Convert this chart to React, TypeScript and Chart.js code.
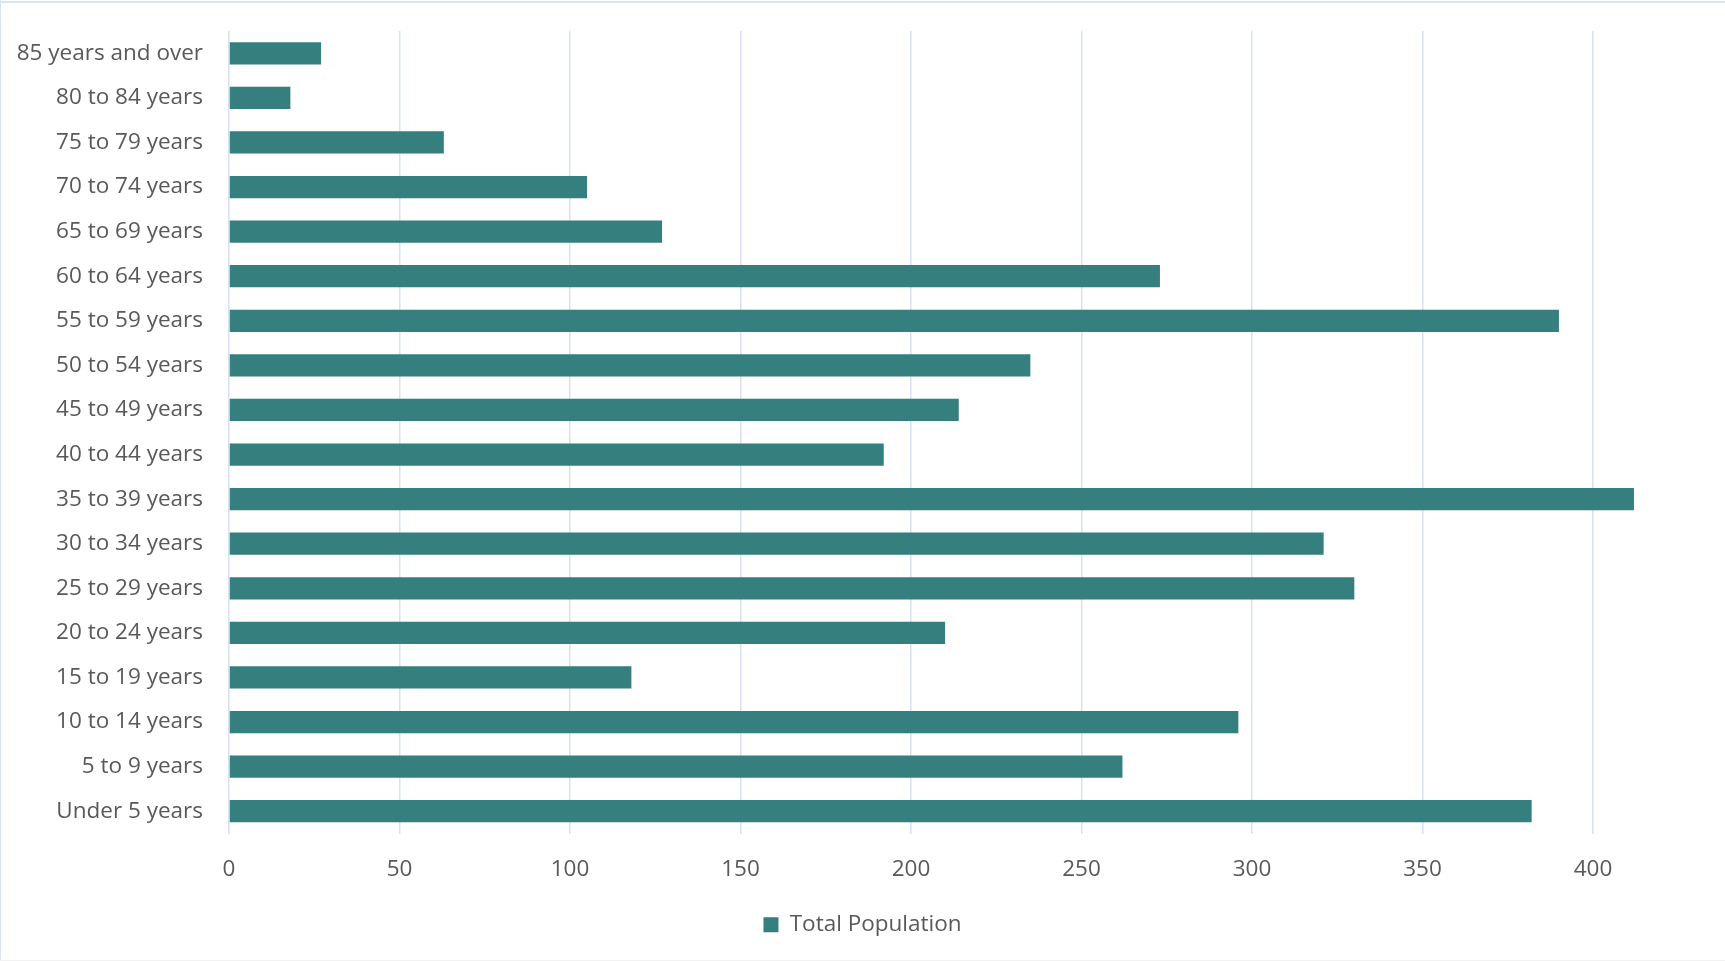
import React, { useEffect, useRef } from "react";
import { Chart, registerables } from "chart.js";

Chart.register(...registerables);

const categories = [
  "85 years and over",
  "80 to 84 years",
  "75 to 79 years",
  "70 to 74 years",
  "65 to 69 years",
  "60 to 64 years",
  "55 to 59 years",
  "50 to 54 years",
  "45 to 49 years",
  "40 to 44 years",
  "35 to 39 years",
  "30 to 34 years",
  "25 to 29 years",
  "20 to 24 years",
  "15 to 19 years",
  "10 to 14 years",
  "5 to 9 years",
  "Under 5 years",
];

const totalPopulation = [27, 18, 63, 105, 127, 273, 390, 235, 214, 192, 412, 321, 330, 210, 118, 296, 262, 382];

const seriesName = "Total Population";
const xTickStep = 50;
const xMax = 438.7;

const FONT = "'Segoe UI', 'Open Sans', sans-serif";
const TEXT = "#595959";
const GRID = "#D6E1F2";
const BAR = "#357F7F";

const borderPlugin = {
  id: "outerBorder",
  afterDraw(chart: any) {
    const ctx = chart.ctx;
    ctx.save();
    ctx.fillStyle = "#DAE4F3";
    ctx.fillRect(0, 1, chart.width, 2);
    ctx.fillRect(0, 0, 1, chart.height);
    ctx.fillStyle = "#F2F2F2";
    ctx.fillRect(0, chart.height - 1, chart.width, 1);
    ctx.restore();
  },
};

export default function App() {
  const ref = useRef<HTMLCanvasElement | null>(null);

  useEffect(() => {
    document.body.style.margin = "0";
    const canvas = ref.current;
    if (!canvas) return;
    const chart = new Chart(canvas, {
      type: "bar",
      data: {
        labels: categories,
        datasets: [
          {
            label: seriesName,
            data: totalPopulation,
            backgroundColor: BAR,
            borderWidth: 0,
            categoryPercentage: 1,
            barPercentage: 0.5,
          },
        ],
      },
      options: {
        indexAxis: "y",
        responsive: false,
        animation: false,
        layout: { padding: { top: 31, right: 0, bottom: 15, left: 0 } },
        plugins: {
          legend: {
            position: "bottom",
            labels: {
              boxWidth: 15,
              boxHeight: 15,
              padding: 10,
              color: TEXT,
              font: { family: FONT, size: 22.5 },
            },
          },
          tooltip: { enabled: false },
        },
        scales: {
          x: {
            type: "linear",
            min: 0,
            max: xMax,
            afterBuildTicks: (axis: any) => {
              axis.ticks = axis.ticks.filter((t: any) => t.value % xTickStep === 0);
            },
            afterFit: (scale: any) => {
              scale.height = 70;
              scale.paddingLeft = 0;
              scale.paddingRight = 0;
            },
            ticks: {
              stepSize: xTickStep,
              padding: 23,
              color: TEXT,
              font: { family: FONT, size: 22.5 },
            },
            grid: { color: GRID, lineWidth: 1.5, drawTicks: false },
            border: { display: false },
          },
          y: {
            afterFit: (scale: any) => {
              scale.width = 229;
              scale.paddingTop = 0;
              scale.paddingBottom = 0;
            },
            ticks: {
              padding: 26,
              color: TEXT,
              font: { family: FONT, size: 22.5 },
            },
            grid: { display: false, drawTicks: false },
            border: { display: false },
          },
        },
      },
      plugins: [borderPlugin],
    } as any);
    return () => chart.destroy();
  }, []);

  return (
    <div style={{ width: 1725, height: 961, background: "#fff" }}>
      <canvas ref={ref} width={1725} height={961} style={{ display: "block", width: 1725, height: 961 }} />
    </div>
  );
}
